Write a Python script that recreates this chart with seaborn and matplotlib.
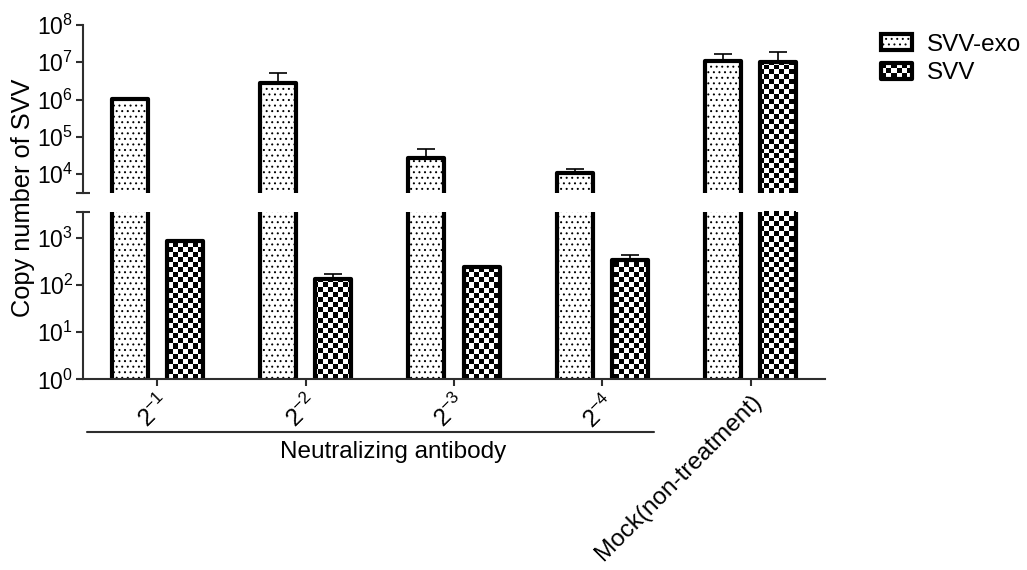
import numpy as np
import pandas as pd
import matplotlib
matplotlib.use("Agg")
import matplotlib.pyplot as plt
import matplotlib.transforms as mtransforms
import seaborn as sns
from matplotlib.patches import Patch, Rectangle
from matplotlib.legend_handler import HandlerPatch
from matplotlib.ticker import LogLocator, NullLocator

# ---------------- data ----------------
categories = ["2^-1", "2^-2", "2^-3", "2^-4", "Mock(non-treatment)"]
tick_labels = [r"$2^{-1}$", r"$2^{-2}$", r"$2^{-3}$", r"$2^{-4}$", "Mock(non-treatment)"]
series = ["SVV-exo", "SVV"]
svv_exo_mean = [1.05e6, 2.83e6, 2.74e4, 1.08e4, 1.06e7]
svv_exo_err = [0, 2.2e6, 1.9e4, 2.6e3, 5.7e6]
svv_mean = [877, 133, 247, 336, 1.02e7]
svv_err = [0, 37, 0, 93, 8.3e6]
group_label = "Neutralizing antibody"
y_label = "Copy number of SVV"

# ---------------- style ----------------
sns.set_style("ticks")
plt.rcParams["font.family"] = ["Liberation Sans", "DejaVu Sans"]
plt.rcParams["mathtext.fontset"] = "custom"
plt.rcParams["mathtext.rm"] = "Liberation Sans"
plt.rcParams["mathtext.it"] = "Liberation Sans:italic"
plt.rcParams["mathtext.bf"] = "Liberation Sans:bold"
plt.rcParams["hatch.linewidth"] = 0.7
plt.rcParams["text.color"] = "black"
plt.rcParams["axes.labelcolor"] = "black"
plt.rcParams["xtick.labelcolor"] = "black"
plt.rcParams["ytick.labelcolor"] = "black"

df = pd.DataFrame({
    "group": categories * 2,
    "series": [series[0]] * len(categories) + [series[1]] * len(categories),
    "value": svv_exo_mean + svv_mean,
})
errs = {series[0]: svv_exo_err, series[1]: svv_err}

W, H = 1027, 570
fig = plt.figure(figsize=(W / 100, H / 100), dpi=100)
left, right = 83, 825
ax_top = fig.add_axes([left / W, 1 - 192.7 / H, (right - left) / W, (192.7 - 25) / H])
ax_bot = fig.add_axes([left / W, 1 - 379.3 / H, (right - left) / W, (379.3 - 212) / H])

ink = "#2e2e2e"
tick_fs = 16.5
text_fs = 17.5

for ax, ylim in ((ax_top, (10 ** 3.5, 1e8)), (ax_bot, (1, 10 ** 3.55))):
    ax.set_yscale("log")
    sns.barplot(data=df, x="group", y="value", hue="series", order=categories,
                hue_order=series, palette={series[0]: "white", series[1]: "white"},
                saturation=1, width=0.745, gap=0.35, errorbar=None,
                edgecolor="black", linewidth=3.0, legend=False, ax=ax)
    bar_conts = list(ax.containers)
    for b in bar_conts[0]:
        b.set_hatch("...")
        b.set_joinstyle("round")
    for b in bar_conts[1]:
        b.set_facecolor("none")
        b.set_joinstyle("round")

    for cont, s in zip(bar_conts, series):
        xs, tops, ups = [], [], []
        for b, e in zip(cont, errs[s]):
            if e > 0:
                xs.append(b.get_x() + b.get_width() / 2)
                tops.append(b.get_y() + b.get_height())
                ups.append(e)
        if xs:
            ax.errorbar(xs, tops, yerr=[np.zeros(len(ups)), ups], fmt="none",
                        ecolor="black", elinewidth=1.2, capsize=6.5, capthick=1.2,
                        zorder=3)

    ax.set_xlim(-0.5, len(categories) - 0.5)
    ax.set_ylim(*ylim)

    # checkerboard fill for SVV bars
    fig.canvas.draw()
    bb = ax.get_window_extent()
    nx = int(round(bb.width / 5.0))
    ny = int(round(bb.height / 5.0))
    checker = (np.add.outer(np.arange(ny), np.arange(nx)) % 2).astype(float)
    for b in bar_conts[1]:
        im = ax.imshow(checker, cmap="gray", vmin=0, vmax=1, extent=(0, 1, 0, 1),
                       transform=ax.transAxes, aspect="auto",
                       interpolation="nearest", zorder=0.5)
        im.set_clip_path(b)
    ax.set_xlim(-0.5, len(categories) - 0.5)
    ax.set_ylim(*ylim)

    ax.set_xlabel("")
    ax.set_ylabel("")
    ax.yaxis.set_major_locator(LogLocator(base=10, numticks=12))
    ax.yaxis.set_minor_locator(NullLocator())
    ax.tick_params(axis="y", labelsize=tick_fs, width=1.5, length=5,
                   color=ink, labelcolor="black", pad=2, direction="out")
    for sp in ("top", "right"):
        ax.spines[sp].set_visible(False)
    ax.spines["left"].set_color(ink)
    ax.spines["left"].set_linewidth(1.5)

# upper panel: no x axis
ax_top.spines["bottom"].set_visible(False)
ax_top.tick_params(axis="x", bottom=False, labelbottom=False)

# lower panel x axis
ax_bot.spines["bottom"].set_color(ink)
ax_bot.spines["bottom"].set_linewidth(1.5)
ax_bot.set_xticks(range(len(categories)))
ax_bot.set_xticklabels(tick_labels, rotation=45, ha="right", va="top",
                       rotation_mode="anchor", fontsize=text_fs, color="black")
ax_bot.tick_params(axis="x", width=1.5, length=5, color=ink, pad=3, direction="out")

# axis-break caps
ax_top.plot([0], [0], marker="_", markersize=10, mew=1.5, color=ink,
            transform=ax_top.transAxes, clip_on=False)
ax_bot.plot([0], [1], marker="_", markersize=10, mew=1.5, color=ink,
            transform=ax_bot.transAxes, clip_on=False)

# group bracket line for the neutralizing antibody dilutions
blend = mtransforms.blended_transform_factory(ax_bot.transData, ax_bot.transAxes)
ax_bot.plot([-0.47, 3.35], [-0.313, -0.313], transform=blend, color=ink, lw=1.5,
            clip_on=False)
fig.text(393 / W, 1 - 458 / H, group_label, ha="center", va="baseline",
         fontsize=text_fs, color="black")

# y label spanning both panels
fig.text(23 / W, 1 - 197.5 / H, y_label, rotation=90, ha="center", va="center",
         fontsize=18.3, color="black")


# legend
class CheckerHandler(HandlerPatch):
    def create_artists(self, legend, orig_handle, xdescent, ydescent, width, height,
                       fontsize, trans):
        x0, y0 = -xdescent, -ydescent
        arts = []
        ncx, ncy = 6, 3
        cw, ch = width / ncx, height / ncy
        for i in range(ncy):
            for j in range(ncx):
                if (i + j) % 2 == 0:
                    arts.append(Rectangle((x0 + j * cw, y0 + i * ch), cw, ch,
                                          facecolor="black", edgecolor="none",
                                          transform=trans))
        arts.append(Rectangle((x0, y0), width, height, facecolor="none",
                              edgecolor="black", lw=3, joinstyle="round",
                              transform=trans))
        return arts


h_exo = Patch(facecolor="white", edgecolor="black", hatch="...", lw=3, joinstyle="round")
h_svv = Patch(facecolor="white", edgecolor="black", lw=3)
leg = fig.legend(handles=[h_exo, h_svv], labels=series, loc="upper left",
                 bbox_to_anchor=(881 / W, 1 - 34 / H), frameon=False, fontsize=text_fs,
                 handlelength=1.28, handleheight=0.64, handletextpad=0.6,
                 labelspacing=0.25, borderpad=0, borderaxespad=0,
                 handler_map={h_svv: CheckerHandler()})
for t in leg.get_texts():
    t.set_color("black")

fig.savefig("out.png", dpi=100)
